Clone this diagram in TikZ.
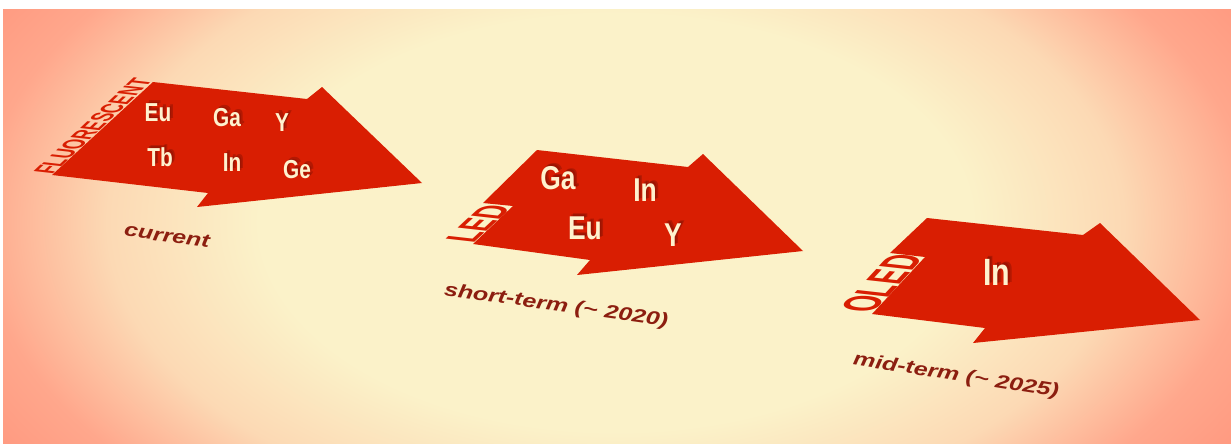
\documentclass[tikz,border=0pt]{standalone}
\usepackage{fontspec}
\setmainfont{Liberation Sans}
\definecolor{arrowred}{HTML}{D91E02}
\definecolor{bgcream}{HTML}{FBF2C9}
\definecolor{bgpeach}{HTML}{FCD9B4}
\definecolor{bgsalmon}{HTML}{FFA78C}
\definecolor{bgdeep}{HTML}{FF9078}
\definecolor{elemcream}{HTML}{FFF2CE}
\definecolor{elemdark}{HTML}{7A1004}
\definecolor{labelred}{HTML}{8C1E10}
\pgfdeclareradialshading{bgglow}{\pgfpoint{0bp}{0bp}}{color(0bp)=(bgcream); color(14bp)=(bgcream); color(20bp)=(bgpeach); color(25bp)=(bgsalmon); color(31bp)=(bgdeep); color(50bp)=(bgdeep)}
\tikzset{
  arrowbody/.style={fill=arrowred},
  elemtext/.style={text=elemcream,inner sep=0pt,xscale=.8},
  elemshade/.style={text=elemdark,opacity=.4,inner sep=0pt,xscale=.8},
  sidetext/.style={text=arrowred,inner sep=0pt,anchor=base west,font=\fontsize{#1}{#1}\selectfont\bfseries},
  termlabel/.style={text=labelred,inner sep=0pt,yscale=.75,font=\fontsize{25}{28}\selectfont\bfseries\itshape},
}
% element symbol with a soft drop shadow
\newcommand\chem[4]{%
  \foreach \d in {1,2}{\node[elemshade,font=\fontsize{#3}{#3}\selectfont\bfseries] (#1s\d) at (#2) [xshift=\d*2pt,yshift=\d*1.5pt] {#4};}
  \node[elemtext,font=\fontsize{#3}{#3}\selectfont\bfseries] (#1) at (#2) {#4};}

\begin{document}
\begin{tikzpicture}[x=1pt,y=-1pt]
  \useasboundingbox[fill=white] (0,0) rectangle (1231,445);
  \begin{scope}
    \clip (3,9) rectangle (1231,443);
    \shade[shading=bgglow] (-20,-150) rectangle (1251,595);
  \end{scope}

  % current
  \fill[arrowbody] (153,82) -- (307,99) -- (322,87) -- (422,183) -- (197,207) -- (208,193) -- (52,175) -- cycle;
  \node[sidetext=21,cm={0.642,0.603,-1.34,0.15,(0,0)}] (fluor) at (52,175) {FLUORESCENT};
  \chem{euA}{158,113}{26}{Eu}
  \chem{gaA}{227,118}{26}{Ga}
  \chem{yA}{282,123}{26}{Y}
  \chem{tbA}{160,157}{26}{Tb}
  \chem{inA}{232,163}{26}{In}
  \chem{geA}{297,170}{26}{Ge}
  \node[rotate=-8,termlabel] (current) at (167,236) {current};

  % short-term
  \fill[arrowbody] (537,150) -- (688,167) -- (703,154) -- (803,251) -- (577,275) -- (590,260) -- (473,244) -- (513,206) -- (483,203) -- cycle;
  \node[sidetext=30,cm={0.657,0.612,-1.392,0.157,(0,0)}] (led) at (473,244) {LED};
  \chem{gaB}{558,178}{33}{Ga}
  \chem{inB}{645,190}{33}{In}
  \chem{euB}{585,228}{33}{Eu}
  \chem{yB}{673,235}{33}{Y}
  \node[rotate=-8,termlabel] (short) at (556,306) {short-term (\textasciitilde\ 2020)};

  % mid-term
  \fill[arrowbody] (927,218) -- (1083,235) -- (1100,223) -- (1200,320) -- (973,343) -- (985,328) -- (872,314) -- (925,257) -- (890,253) -- cycle;
  \node[sidetext=30,cm={0.632,0.679,-1.62,0.18,(0,0)}] (oled) at (872,314) {OLED};
  \chem{inC}{997,272}{38}{In}
  \node[rotate=-9,termlabel] (mid) at (956,376) {mid-term (\textasciitilde\ 2025)};
\end{tikzpicture}
\end{document}
